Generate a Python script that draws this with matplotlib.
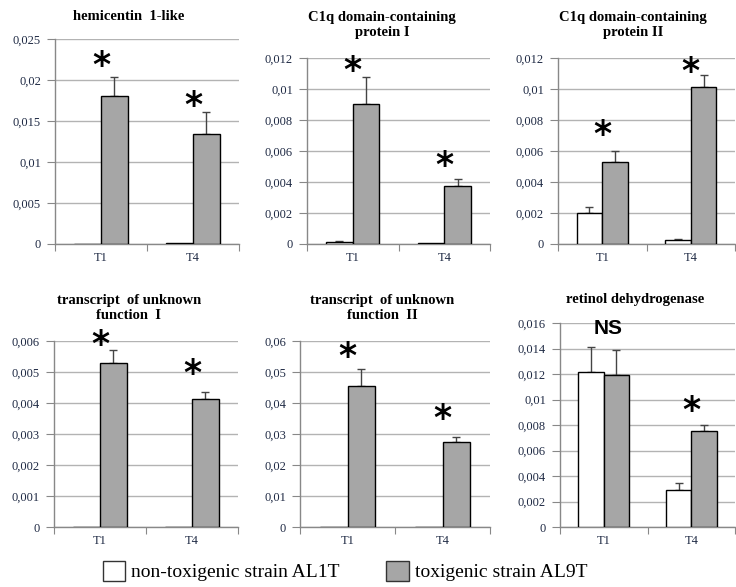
import matplotlib
matplotlib.use("Agg")
import matplotlib.pyplot as plt
from matplotlib.patches import Patch

# ---------------- data ----------------
categories = ["T1", "T4"]

titles = [
    "hemicentin  1-like",
    "C1q domain-containing\nprotein I",
    "C1q domain-containing\nprotein II",
    "transcript  of unknown\nfunction  I",
    "transcript  of unknown\nfunction  II",
    "retinol dehydrogenase",
]

nontox_vals = [
    [0.0, 0.0001],
    [0.00015, 0.00005],
    [0.00202, 0.00028],
    [0.0, 0.0],
    [0.0, 0.0],
    [0.01212, 0.00293],
]
nontox_err = [
    [0.0, 0.0],
    [0.00003, 0.0],
    [0.00037, 0.00004],
    [0.0, 0.0],
    [0.0, 0.0],
    [0.00197, 0.00055],
]
tox_vals = [
    [0.0181, 0.01344],
    [0.00901, 0.00374],
    [0.00529, 0.01013],
    [0.0053, 0.00412],
    [0.0455, 0.0275],
    [0.01191, 0.00754],
]
tox_err = [
    [0.0023, 0.0026],
    [0.00174, 0.00043],
    [0.00073, 0.00075],
    [0.0004, 0.00022],
    [0.0056, 0.0016],
    [0.00197, 0.00045],
]
signif = [
    ["*", "*"],
    ["*", "*"],
    ["*", "*"],
    ["*", "*"],
    ["*", "*"],
    ["NS", "*"],
]
ymax = [0.025, 0.012, 0.012, 0.006, 0.06, 0.016]
yticks = [
    [0, 0.005, 0.01, 0.015, 0.02, 0.025],
    [0, 0.002, 0.004, 0.006, 0.008, 0.01, 0.012],
    [0, 0.002, 0.004, 0.006, 0.008, 0.01, 0.012],
    [0, 0.001, 0.002, 0.003, 0.004, 0.005, 0.006],
    [0, 0.01, 0.02, 0.03, 0.04, 0.05, 0.06],
    [0, 0.002, 0.004, 0.006, 0.008, 0.01, 0.012, 0.014, 0.016],
]
ytick_labels = [
    ["0", "0,005", "0,01", "0,015", "0,02", "0,025"],
    ["0", "0,002", "0,004", "0,006", "0,008", "0,01", "0,012"],
    ["0", "0,002", "0,004", "0,006", "0,008", "0,01", "0,012"],
    ["0", "0,001", "0,002", "0,003", "0,004", "0,005", "0,006"],
    ["0", "0,01", "0,02", "0,03", "0,04", "0,05", "0,06"],
    ["0", "0,002", "0,004", "0,006", "0,008", "0,01", "0,012", "0,014", "0,016"],
]
legend_labels = ["non-toxigenic strain AL1T", "toxigenic strain AL9T"]

# ---------------- layout ----------------
W, H = 736, 587
fig = plt.figure(figsize=(W / 100, H / 100), dpi=100)

# axes boxes in pixels: left, right, top, bottom
boxes = [
    (55, 239, 39, 244),
    (307, 490, 58, 244),
    (558, 735, 58, 244),
    (54, 238, 341, 527),
    (300, 490, 341, 527),
    (560, 735, 323, 527),
]
title_pos = [(129, 16), (382, 25), (633, 25), (129, 308), (382, 308), (635, 300)]
# gap in pixels between error-bar top and centre of the significance mark
mark_gap_px = [(18, 14), (14, 21), (23, 11), (13, 26), (19, 25), (21, 22)]

serif = "Liberation Serif"
tick_color = "#1f2a44"
grid_color = "#b3b3b3"
gray = "#a6a6a6"
bw = 0.29
STAR_SIZE = 25
STAR_CENTER_PX = 0.51 * STAR_SIZE * 100 / 72   # glyph centre above baseline
NS_SIZE = 15
NS_CENTER_PX = 0.36 * NS_SIZE * 100 / 72

for i in range(6):
    l, r, t, b = boxes[i]
    ax = fig.add_axes([l / W, 1 - b / H, (r - l) / W, (b - t) / H])
    x = list(range(len(categories)))
    xw = [xi - bw / 2 for xi in x]
    xg = [xi + bw / 2 for xi in x]
    ax.bar(xw, nontox_vals[i], width=bw, color="white", edgecolor="black",
           linewidth=1.0, zorder=3)
    ax.bar(xg, tox_vals[i], width=bw, color=gray, edgecolor="black",
           linewidth=1.0, zorder=3)
    for xs, vs, es in ((xw, nontox_vals[i], nontox_err[i]), (xg, tox_vals[i], tox_err[i])):
        for xx, v, e in zip(xs, vs, es):
            if e > 0:
                ax.errorbar([xx], [v], yerr=[[0], [e]], fmt="none", ecolor="#444444",
                            elinewidth=1.0, capsize=3, capthick=1.0, zorder=2)
    for j in range(len(categories)):
        top = max(tox_vals[i][j] + tox_err[i][j], nontox_vals[i][j] + nontox_err[i][j])
        s = signif[i][j]
        gap = mark_gap_px[i][j]
        if s == "NS":
            ax.annotate(s, xy=(x[j] + 0.05, top), xytext=(0, gap - NS_CENTER_PX),
                        textcoords="offset pixels", ha="center", va="baseline",
                        fontsize=NS_SIZE, fontweight="bold", family="Liberation Sans",
                        zorder=5, annotation_clip=False)
        else:
            ax.annotate(s, xy=(x[j], top), xytext=(0, gap - STAR_CENTER_PX),
                        textcoords="offset pixels", ha="center", va="baseline",
                        fontsize=STAR_SIZE, fontweight="bold", family="DejaVu Sans",
                        zorder=5, annotation_clip=False)
    ax.set_xlim(-0.5, len(categories) - 0.5)
    ax.set_ylim(0, ymax[i])
    ax.set_yticks(yticks[i])
    ax.set_yticklabels(ytick_labels[i], family=serif, fontsize=9, color=tick_color)
    ax.set_xticks([-0.5, 0.5, 1.5])
    ax.set_xticklabels([])
    ax.set_xticks(x, minor=True)
    ax.set_xticklabels(categories, minor=True, family=serif, fontsize=9, color=tick_color)
    ax.tick_params(axis="x", which="major", length=5, color="#888888", direction="out")
    ax.tick_params(axis="x", which="minor", length=0, pad=6)
    ax.tick_params(axis="y", length=6, color="#888888", pad=4)
    ax.grid(axis="y", color=grid_color, linewidth=1.0, zorder=0)
    ax.set_axisbelow(True)
    for sp in ("top", "right"):
        ax.spines[sp].set_visible(False)
    for sp in ("left", "bottom"):
        ax.spines[sp].set_color("#888888")
        ax.spines[sp].set_linewidth(1.0)
    tx, ty = title_pos[i]
    fig.text(tx / W, 1 - ty / H, titles[i], ha="center", va="center", family=serif,
             fontweight="bold", fontsize=10.5, linespacing=1.25)

handles = [Patch(facecolor="white", edgecolor="#333333", linewidth=1.0),
           Patch(facecolor=gray, edgecolor="#333333", linewidth=1.0)]
fig.legend(handles, legend_labels, loc="center", bbox_to_anchor=(345 / W, 1 - 571 / H),
           ncol=2, frameon=False, prop={"family": serif, "size": 14},
           handlelength=1.15, handleheight=1.2, handletextpad=0.3, columnspacing=2.4)

fig.savefig("out.png", dpi=100)
